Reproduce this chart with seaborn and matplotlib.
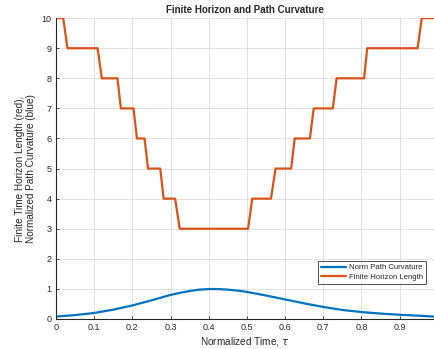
import matplotlib
matplotlib.use('Agg')
import matplotlib.pyplot as plt
import seaborn as sns
import pandas as pd

# step function (finite horizon length), breakpoints
horizon_t = [0.0, 0.019, 0.03, 0.109, 0.12, 0.161, 0.17, 0.203, 0.212, 0.232, 0.241,
             0.273, 0.282, 0.312, 0.324, 0.503, 0.514, 0.563, 0.575, 0.616, 0.625,
             0.665, 0.675, 0.725, 0.735, 0.807, 0.815, 0.947, 0.958, 0.99]
horizon_len = [10, 10, 9, 9, 8, 8, 7, 7, 6, 6, 5,
               5, 4, 4, 3, 3, 4, 4, 5, 5, 6,
               6, 7, 7, 8, 8, 9, 9, 10, 10]

# normalized path curvature
curv_t = [0.0, 0.05, 0.1, 0.15, 0.2, 0.25, 0.3, 0.325, 0.35, 0.375, 0.4, 0.425,
          0.45, 0.475, 0.5, 0.55, 0.6, 0.65, 0.7, 0.75, 0.8, 0.85, 0.9, 0.95, 0.99]
curv_val = [0.08, 0.13, 0.2, 0.31, 0.45, 0.62, 0.8, 0.87, 0.93, 0.975, 0.995, 0.995,
            0.975, 0.945, 0.9, 0.78, 0.65, 0.52, 0.4, 0.3, 0.23, 0.18, 0.14, 0.11, 0.08]

sns.set_style('white')
plt.rcParams['font.family'] = ['Liberation Sans', 'DejaVu Sans']

curv = pd.DataFrame({'t': curv_t, 'v': curv_val})
hor = pd.DataFrame({'t': horizon_t, 'v': horizon_len})

fig = plt.figure(figsize=(4.34, 3.49), dpi=100)
ax = fig.add_axes([0.129, 0.086, 0.871, 0.862])

sns.lineplot(data=curv, x='t', y='v', ax=ax, color='#0072BD', lw=1.6,
             estimator=None, sort=False, label='Norm Path Curvature')
sns.lineplot(data=hor, x='t', y='v', ax=ax, color='#D95319', lw=1.6,
             estimator=None, sort=False, label='Finite Horizon Length')

ax.set_xlim(0, 0.99)
ax.set_ylim(0, 10)
ax.set_xticks([0, 0.1, 0.2, 0.3, 0.4, 0.5, 0.6, 0.7, 0.8, 0.9])
ax.set_xticklabels(['0', '0.1', '0.2', '0.3', '0.4', '0.5', '0.6', '0.7', '0.8', '0.9'])
ax.set_yticks(range(0, 11))
ax.grid(True, color='#dcdcdc', lw=0.6)
ax.set_axisbelow(True)
for side in ['left', 'bottom']:
    ax.spines[side].set_color('#262626')
    ax.spines[side].set_linewidth(0.8)
for side in ['top', 'right']:
    ax.spines[side].set_visible(False)
ax.tick_params(labelsize=6.5, colors='#262626', length=2.5, width=0.6, direction='in',
               pad=3, left=True, bottom=True)

ax.set_title('Finite Horizon and Path Curvature', fontsize=7, fontweight='bold', pad=4)
ax.set_xlabel(r'Normalized Time, $\tau$', fontsize=7.2, color='#262626', labelpad=2)
ax.set_ylabel('Finite Time Horizon Length (red),\nNormalized Path Curvature (blue)',
              fontsize=7.2, color='#262626', labelpad=4)

leg = ax.legend(loc='lower right', bbox_to_anchor=(0.99, 0.105), fontsize=5.6,
                frameon=True, fancybox=False, handlelength=3.2, borderpad=0.35,
                labelspacing=0.25, handletextpad=0.5)
leg.get_frame().set_edgecolor('#262626')
leg.get_frame().set_linewidth(0.7)

fig.savefig('out.png', dpi=100)
